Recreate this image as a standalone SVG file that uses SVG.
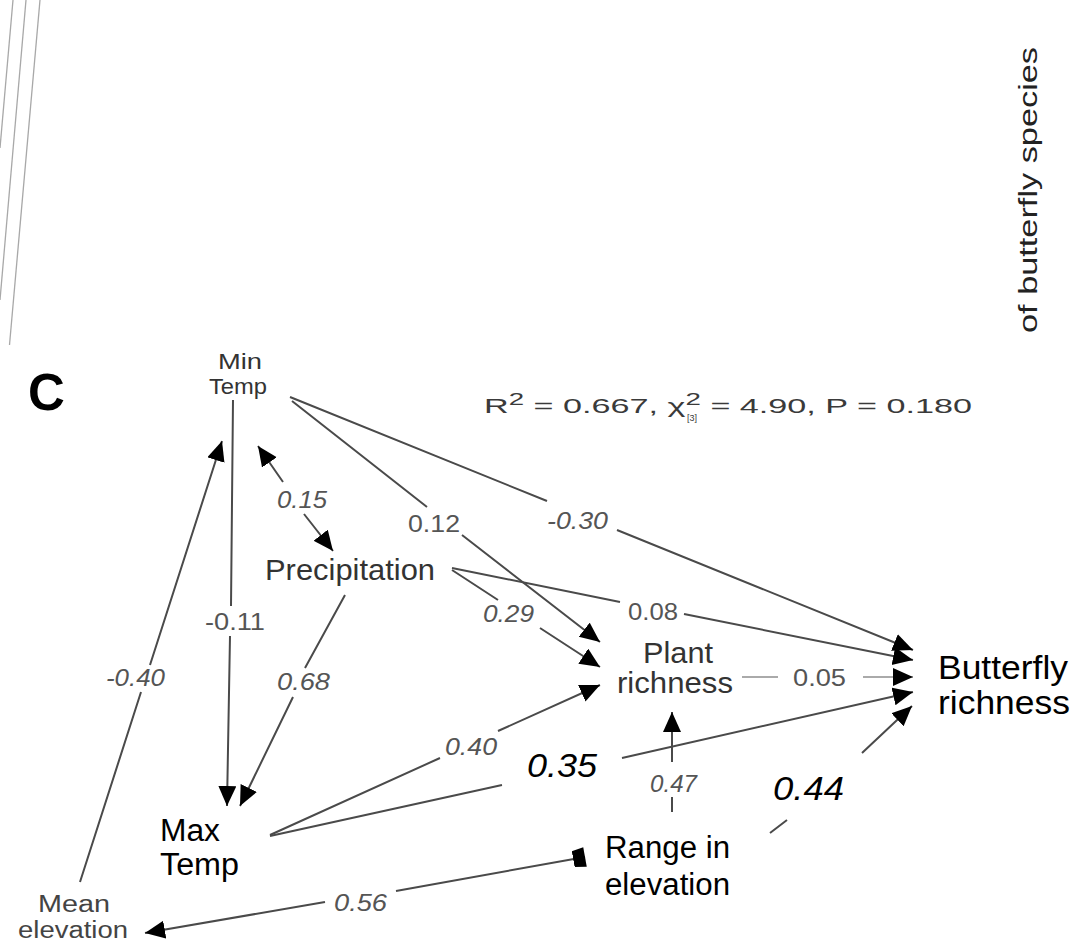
<svg xmlns="http://www.w3.org/2000/svg" width="1073" height="943" viewBox="0 0 1073 943">
<defs>
<style>
text{font-family:"Liberation Sans",Arial,Helvetica,sans-serif}
.g{fill:#333}
.k{fill:#000}
.c{fill:#555;font-size:24px}
.i{font-style:italic}
.e{fill:none;stroke:#4a4a4a;stroke-width:2}
.lt{fill:none;stroke:#aaa;stroke-width:2}
.edge{stroke:#a8a8a8;stroke-width:1.3;fill:none}
</style>
<marker id="ah" markerUnits="userSpaceOnUse" markerWidth="22" markerHeight="20" refX="20" refY="9" orient="auto-start-reverse" viewBox="0 0 22 20">
<path d="M0,0 L20,9 L0,18 Z" fill="#000"/>
</marker>
<marker id="sq" markerUnits="userSpaceOnUse" markerWidth="14" markerHeight="22" refX="12" refY="10" orient="auto" viewBox="0 0 14 22">
<path d="M0,2 L12,0 L12,20 L0,18 Z" fill="#000"/>
</marker>
</defs>
<rect width="1073" height="943" fill="#fff"/>
<g id="panel-edges">
<line class="edge" x1="13" y1="0" x2="0" y2="148"/>
<line class="edge" x1="26" y1="0" x2="0" y2="300"/>
<line class="edge" x1="40" y1="0" x2="9.5" y2="345"/>
</g>
<text x="0" y="0" transform="translate(1037,333) rotate(-90)" font-size="25" fill="#222" textLength="286" lengthAdjust="spacingAndGlyphs">of butterfly species</text>
<text x="28" y="410" font-size="51" font-weight="bold" class="k">C</text>
<g id="stats" fill="#3a3a3a">
<text x="484" y="413" font-size="21" textLength="488" lengthAdjust="spacingAndGlyphs">R<tspan font-size="17" dy="-8">2</tspan><tspan dy="8"> = 0.667, χ</tspan><tspan font-size="17" dy="-8">2</tspan><tspan dy="8"> = 4.90, P = 0.180</tspan></text>
<text x="687" y="421" font-size="9">[3]</text>
</g>
<g id="connectors">
<path class="e" d="M80,882 L141,692 M150,665 L222,441" marker-end="url(#ah)"/>
<path class="e" d="M233,400 L231,606 M230,636 L227,806" marker-end="url(#ah)"/>
<path class="e" d="M345,595 L305,668 M293,697 L240,806" marker-end="url(#ah)"/>
<path class="e" d="M258,446 L283,482 M304,514 L333,551" marker-start="url(#ah)" marker-end="url(#ah)"/>
<path class="e" d="M290,397 L547,501 M617,530 L913,650" marker-end="url(#ah)"/>
<path class="e" d="M292,401 L427,507 M462,535 L600,642" marker-end="url(#ah)"/>
<path class="e" d="M452,570 L498,600 M540,628 L600,667" marker-end="url(#ah)"/>
<path class="e" d="M452,568 L620,602 M684,614 L913,660" marker-end="url(#ah)"/>
<path class="e" d="M270,835 L440,758 M498,731 L600,685" marker-end="url(#ah)"/>
<path class="e" d="M270,836 L502,785 M622,758 L913,692" marker-end="url(#ah)"/>
<path class="lt" d="M742,677 L778,677 M863,677 L913,677" marker-end="url(#ah)"/>
<path class="e" d="M672,812 L672,797 M672,762 L672,712" marker-end="url(#ah)"/>
<path class="e" d="M770,833 L787,820 M862,753 L912,706" marker-end="url(#ah)"/>
<path class="e" d="M145,933 L325,902 M396,891 L585,857" marker-start="url(#ah)" marker-end="url(#sq)"/>
</g>
<g id="coefficients">
<text class="c i" x="277" y="508" textLength="50" lengthAdjust="spacingAndGlyphs">0.15</text>
<text class="c" x="408" y="532" textLength="52" lengthAdjust="spacingAndGlyphs">0.12</text>
<text class="c i" x="547" y="529" textLength="61" lengthAdjust="spacingAndGlyphs">-0.30</text>
<text class="c" x="205" y="630" textLength="60" lengthAdjust="spacingAndGlyphs">-0.11</text>
<text class="c i" x="483" y="622" textLength="51" lengthAdjust="spacingAndGlyphs">0.29</text>
<text class="c" x="628" y="620" textLength="50" lengthAdjust="spacingAndGlyphs">0.08</text>
<text class="c i" x="277" y="690" textLength="53" lengthAdjust="spacingAndGlyphs">0.68</text>
<text class="c i" x="106" y="686" textLength="59" lengthAdjust="spacingAndGlyphs">-0.40</text>
<text class="c i" x="445" y="755" textLength="52" lengthAdjust="spacingAndGlyphs">0.40</text>
<text class="c" x="793" y="686" textLength="53" lengthAdjust="spacingAndGlyphs">0.05</text>
<text class="c i" x="650" y="792" textLength="47" lengthAdjust="spacingAndGlyphs">0.47</text>
<text class="c i" x="334" y="911" textLength="53" lengthAdjust="spacingAndGlyphs">0.56</text>
<text class="k i" x="527" y="777" font-size="33" textLength="70" lengthAdjust="spacingAndGlyphs">0.35</text>
<text class="k i" x="773" y="800" font-size="33" textLength="71" lengthAdjust="spacingAndGlyphs">0.44</text>
</g>
<g id="node-min-temp" class="g" font-size="22">
<text x="218" y="369" textLength="44" lengthAdjust="spacingAndGlyphs">Min</text>
<text x="209" y="394" textLength="58" lengthAdjust="spacingAndGlyphs">Temp</text>
</g>
<g id="node-precipitation" class="g" font-size="30">
<text x="265" y="580" textLength="170" lengthAdjust="spacingAndGlyphs">Precipitation</text>
</g>
<g id="node-plant-richness" class="g" font-size="30">
<text x="643" y="663" textLength="70" lengthAdjust="spacingAndGlyphs">Plant</text>
<text x="617" y="693" textLength="116" lengthAdjust="spacingAndGlyphs">richness</text>
</g>
<g id="node-butterfly-richness" class="k" font-size="33">
<text x="938" y="679" textLength="130" lengthAdjust="spacingAndGlyphs">Butterfly</text>
<text x="938" y="714" textLength="132" lengthAdjust="spacingAndGlyphs">richness</text>
</g>
<g id="node-max-temp" class="k" font-size="31">
<text x="160" y="841" textLength="60" lengthAdjust="spacingAndGlyphs">Max</text>
<text x="160" y="875" textLength="79" lengthAdjust="spacingAndGlyphs">Temp</text>
</g>
<g id="node-mean-elevation" fill="#444" font-size="23">
<text x="38" y="912" textLength="72" lengthAdjust="spacingAndGlyphs">Mean</text>
<text x="18" y="938" textLength="110" lengthAdjust="spacingAndGlyphs">elevation</text>
</g>
<g id="node-range-elevation" class="k" font-size="31">
<text x="605" y="858" textLength="125" lengthAdjust="spacingAndGlyphs">Range in</text>
<text x="605" y="895" textLength="125" lengthAdjust="spacingAndGlyphs">elevation</text>
</g>
</svg>
